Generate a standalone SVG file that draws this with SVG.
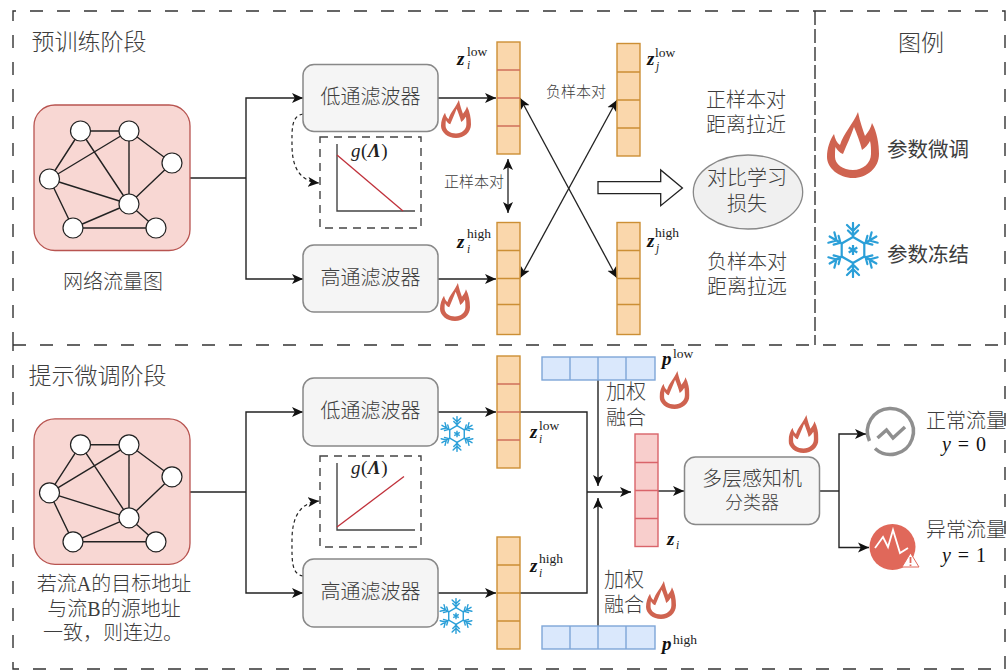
<svg xmlns="http://www.w3.org/2000/svg" xmlns:xlink="http://www.w3.org/1999/xlink" width="1006" height="670" viewBox="0 0 1006 670">
<style>
text{font-family:"Liberation Serif","Noto Sans CJK SC",serif;fill:#3d3d3d}
.t{text-anchor:middle;font-weight:300}
.s20{font-size:20px}.s23{font-size:23px}.s15{font-size:15px}
.m{fill:#111}
.z{font-size:19px;font-weight:bold;font-style:italic;fill:#111}
.i{font-size:11.5px;font-style:italic;fill:#222}
.u{font-size:13.5px;fill:#222}
.filter{fill:#f5f5f5;stroke:#888;stroke-width:1.5}
.graph{fill:#f8d7d3;stroke:#b85450;stroke-width:1.3}
.cell{fill:#fad7ac;stroke:#cc8f35;stroke-width:1.4}
.blue{fill:#dae8fc;stroke:#7ea6d8;stroke-width:1.4}
.pink{fill:#f8cecc;stroke:#d9646a;stroke-width:1.4}
.edge{stroke:#222;stroke-width:1.4;fill:none}
.arrow{stroke:#222;stroke-width:1.4;fill:none;marker-end:url(#ah)}
.both{stroke:#222;stroke-width:1.3;fill:none;marker-end:url(#ah);marker-start:url(#ah)}
.dash{stroke:#222;stroke-width:1.2;fill:none;stroke-dasharray:3.5 3;marker-end:url(#ah)}
.border{stroke:#333;stroke-width:1.4;fill:none;stroke-dasharray:13 14}
.box{stroke:#444;stroke-width:1.4;fill:none;stroke-dasharray:8 6}
.ax{stroke:#444;stroke-width:1.4;fill:none}
.red{stroke:#c0303a;stroke-width:1.3;fill:none}
.fl{fill:#cf6350;fill-rule:evenodd}
.sn{stroke:#2a9fd8;fill:none;stroke-width:2.2}
</style>
<defs>
<marker id="ah" markerUnits="userSpaceOnUse" markerWidth="12" markerHeight="11" viewBox="0 0 12 11" refX="11" refY="5.5" orient="auto-start-reverse"><path d="M0,0.5 L11,5.5 L0,10.5 L2.8,5.5 z" fill="#111"/></marker>
<symbol id="flame" viewBox="0 0 52 66" preserveAspectRatio="none"><path class="fl" d="M31 0C33 10 36 18 38 24C41 20 44 16 45 11C50 20 52 32 52 42C52 56 40 66 26 66C12 66 0 56 0 45C0 36 3 28 7 22C8 27 10 31 13 33C16 22 26 12 31 0ZM27 15C24 24 20 32 16 42C13 41 10 38 8.500 35C8 38 8 41 8 45C8 52 16 58 26 58C36 58 44 51 44 42C44 37 44 33 43 29C41 33 38 36 35 38C33 30 30 22 27 15Z"/></symbol>
<g id="arm"><path d="M0 -13V-27M-6 -25L0 -19L6 -25M-5 -19.500L0 -14.500L5 -19.500" class="sn" stroke-linecap="round"/></g>
<symbol id="snow" viewBox="-28 -28 56 56">
<path class="sn" d="M0 -13L11.300 -6.500V6.500L0 13L-11.300 6.500V-6.500Z"/>
<use xlink:href="#arm" href="#arm"/><use xlink:href="#arm" href="#arm" transform="rotate(60)"/><use xlink:href="#arm" href="#arm" transform="rotate(120)"/><use xlink:href="#arm" href="#arm" transform="rotate(180)"/><use xlink:href="#arm" href="#arm" transform="rotate(240)"/><use xlink:href="#arm" href="#arm" transform="rotate(300)"/>
<path class="sn" d="M0 -5V5M-4.300 -2.500L4.300 2.500M-4.300 2.500L4.300 -2.500"/>
</symbol>
<g id="net">
<rect class="graph" x="34" y="105" width="156" height="145.500" rx="21"/>
<path d="M80.500 131H129M80.500 131L49.500 179M80.500 131L129 204M129 131L49.500 179M129 131V204M129 131L172 163M172 163L129 204M49.500 179L129 204M49.500 179L73 228M129 204L73 228M129 204L156 228M73 228H156" stroke="#222" stroke-width="1.400" fill="none"/>
<g fill="#fff" stroke="#222" stroke-width="1.200"><circle cx="80.500" cy="131" r="10"/><circle cx="129" cy="131" r="10"/><circle cx="172" cy="163" r="10"/><circle cx="49.500" cy="179" r="10"/><circle cx="129" cy="204" r="10"/><circle cx="73" cy="228" r="10"/><circle cx="156" cy="228" r="10"/></g>
</g>
</defs>

<g id="borders">
<path class="border" d="M13 345V11H1005V669H13V345"/>
<path class="border" d="M13 345H1005"/>
<path class="border" d="M815 11V345" style="stroke-dasharray:14 4"/>
</g>

<g id="connectors">
<path class="edge" d="M190 178H246"/>
<path class="arrow" d="M246 178V98H303"/>
<path class="arrow" d="M246 178V279H303"/>
<path class="arrow" d="M438 98H496"/>
<path class="arrow" d="M438 279H496"/>
<path class="dash" d="M303 114C291 116 292 130 292 145C292 165 298 181 319 183"/>
<path class="both" d="M508 159V213"/>
<path class="both" d="M520 98L617 278"/>
<path class="both" d="M520 278L617 100"/>
<path class="edge" d="M190 492H246"/>
<path class="arrow" d="M246 492V412H303"/>
<path class="arrow" d="M246 492V593H303"/>
<path class="arrow" d="M438 412H496"/>
<path class="arrow" d="M438 593H496"/>
<path class="dash" d="M303 576C291 574 292 560 292 540C292 520 298 503 319 501"/>
<path class="edge" d="M520 412H587V593H520"/>
<path class="arrow" d="M587 492H631"/>
<path class="arrow" d="M598 380V486"/>
<path class="arrow" d="M598 626V498"/>
<path class="arrow" d="M658 491H684"/>
<path class="edge" d="M819.500 491H839"/>
<path class="arrow" d="M839 491V434H866"/>
<path class="arrow" d="M839 491V547.500H869"/>
</g>

<g id="labels-stage">
<text class="t s23" x="89" y="50">预训练阶段</text>
<text class="t s23" x="97.500" y="384">提示微调阶段</text>
<text class="t s23" x="921" y="51">图例</text>
</g>

<g id="graph-top"><use href="#net"/><text class="t s20" x="113" y="289">网络流量图</text></g>
<g id="graph-bottom"><use href="#net" transform="translate(0 313.800)"/>
<text class="t s20" x="114" y="591">若流A的目标地址</text><text class="t s20" x="114" y="616">与流B的源地址</text><text class="t s20" x="113" y="640">一致，则连边。</text></g>

<g id="filter-low-top"><rect class="filter" x="303" y="64.500" width="135" height="67" rx="11"/><text class="t s20" x="370.500" y="104">低通滤波器</text></g>
<g id="filter-high-top"><rect class="filter" x="303" y="245" width="135" height="67" rx="11"/><text class="t s20" x="370.500" y="285">高通滤波器</text></g>
<g id="filter-low-bottom"><rect class="filter" x="303" y="378" width="135" height="68" rx="11"/><text class="t s20" x="370.500" y="418">低通滤波器</text></g>
<g id="filter-high-bottom"><rect class="filter" x="303" y="559" width="135" height="68" rx="11"/><text class="t s20" x="370.500" y="599">高通滤波器</text></g>

<g id="plot-top"><rect class="box" x="320" y="137" width="101" height="91"/><path class="ax" d="M337 144V211H415"/><path class="red" d="M337 155L403 211"/><text x="351" y="157" font-size="19" letter-spacing="0.6" style="fill:#222"><tspan font-style="italic">g</tspan>(<tspan font-weight="bold" font-style="italic">Λ</tspan>)</text></g>
<g id="plot-bottom"><rect class="box" x="320" y="456" width="101" height="91"/><path class="ax" d="M337 463V530H415"/><path class="red" d="M337 527L404 476.500"/><text x="351" y="474" font-size="19" letter-spacing="0.6" style="fill:#222"><tspan font-style="italic">g</tspan>(<tspan font-weight="bold" font-style="italic">Λ</tspan>)</text></g>

<g id="vec-zi-low"><rect class="cell" x="497" y="42" width="23" height="112"/><path stroke="#d0705a" stroke-width="1.400" d="M497 70H520M497 98H520M497 126H520"/><text class="z" x="457" y="65">z</text><text class="i" x="467" y="69">i</text><text class="u" x="467" y="56">low</text></g>
<g id="vec-zj-low"><rect class="cell" x="617" y="43.500" width="23" height="112.500"/><path stroke="#cc8f35" stroke-width="1.400" d="M617 72H640M617 100H640M617 128H640"/><text class="z" x="647" y="65">z</text><text class="i" x="656" y="70">j</text><text class="u" x="655" y="57">low</text></g>
<g id="vec-zi-high"><rect class="cell" x="497" y="222.500" width="23" height="112"/><path stroke="#cc8f35" stroke-width="1.400" d="M497 250.500H520M497 278.500H520M497 304.500H520"/><text class="z" x="457" y="248">z</text><text class="i" x="467" y="253">i</text><text class="u" x="467" y="238">high</text></g>
<g id="vec-zj-high"><rect class="cell" x="617" y="222.500" width="23" height="112"/><path stroke="#cc8f35" stroke-width="1.400" d="M617 250.500H640M617 278.500H640M617 304.500H640"/><text class="z" x="647" y="247">z</text><text class="i" x="656" y="252">j</text><text class="u" x="655" y="237">high</text></g>

<g id="vec-low-bottom"><rect class="cell" x="497" y="356" width="23" height="112"/><path stroke="#d0705a" stroke-width="1.400" d="M497 384H520M497 412H520M497 440H520"/><text class="z" x="530" y="438">z</text><text class="i" x="539" y="443">i</text><text class="u" x="539" y="430">low</text></g>
<g id="vec-high-bottom"><rect class="cell" x="497" y="537" width="23" height="112"/><path stroke="#cc8f35" stroke-width="1.400" d="M497 565H520M497 593H520M497 621H520"/><text class="z" x="530" y="572">z</text><text class="i" x="539" y="577">i</text><text class="u" x="539" y="563">high</text></g>
<g id="vec-zi"><rect class="pink" x="635" y="434" width="23" height="112.500"/><path stroke="#d9646a" stroke-width="1.400" d="M635 462.500H658M635 490.500H658M635 518.500H658"/><text class="z" x="667" y="545">z</text><text class="i" x="676" y="549">i</text></g>
<g id="prompt-low"><rect class="blue" x="542" y="357" width="113" height="23"/><path stroke="#7ea6d8" stroke-width="1.400" d="M570 357V380M598 357V380M626 357V380"/><text class="z" x="662" y="365">p</text><text class="u" x="673" y="358">low</text></g>
<g id="prompt-high"><rect class="blue" x="542" y="626" width="113" height="23"/><path stroke="#7ea6d8" stroke-width="1.400" d="M570 626V649M598 626V649M626 626V649"/><text class="z" x="662" y="650">p</text><text class="u" x="673" y="644">high</text></g>

<g id="pair-labels">
<text class="t s15" x="576" y="97">负样本对</text>
<text class="t s15" x="474" y="187">正样本对</text>
<text class="t s20" x="746" y="107">正样本对</text><text class="t s20" x="746" y="132">距离拉近</text>
<text class="t s20" x="747" y="269">负样本对</text><text class="t s20" x="747" y="294">距离拉远</text>
<text class="t s20" x="626" y="399">加权</text><text class="t s20" x="626" y="425">融合</text>
<text class="t s20" x="624" y="587">加权</text><text class="t s20" x="624" y="612">融合</text>
</g>

<g id="loss"><path d="M598 181.700H660.700V170L682.400 188L660.700 205.700V193.700H598Z" fill="#fff" stroke="#222" stroke-width="1.300"/><ellipse cx="748" cy="192" rx="54.700" ry="37" fill="#f0f0f0" stroke="#888" stroke-width="1.300"/><text class="t s20" x="747" y="185">对比学习</text><text class="t s20" x="747" y="211">损失</text></g>

<g id="legend">
<use href="#flame" x="827" y="112" width="52" height="66"/><text class="s20" x="887" y="157" style="font-size:20.500px">参数微调</text>
<use href="#snow" x="825" y="222" width="56" height="56"/><text class="s20" x="887" y="262" style="font-size:20.500px">参数冻结</text>
</g>

<g id="icons">
<use href="#flame" x="441" y="100" width="30" height="38"/>
<use href="#flame" x="440" y="283" width="30" height="38"/>
<use href="#flame" x="659.500" y="371" width="30" height="38"/>
<use href="#flame" x="646" y="581" width="30" height="38"/>
<use href="#flame" x="788.500" y="415" width="30" height="38"/>
<use href="#snow" x="439" y="416" width="36" height="36"/>
<use href="#snow" x="438" y="598" width="36" height="36"/>
</g>

<g id="mlp"><rect class="filter" x="684.500" y="457" width="135" height="67.500" rx="11"/><text class="t s20" x="752" y="486">多层感知机</text><text class="t" font-size="18" x="752" y="509">分类器</text></g>

<g id="normal"><path d="M869.500 441A23 23 0 1 1 875 448.500" fill="none" stroke="#8f8f8f" stroke-width="3.500"/><path d="M877.500 438L886.500 430L893 438L905 427" fill="none" stroke="#8f8f8f" stroke-width="3.500"/><text class="t s20" x="966" y="428">正常流量</text><text class="m" x="964" y="451" font-size="20" text-anchor="middle" word-spacing="2"><tspan font-style="italic">y</tspan> = 0</text></g>
<g id="anomaly"><circle cx="892.500" cy="547" r="23" fill="#e0685a"/><path d="M875 548L883 537L888 547L893 530L900 553L908 548" fill="none" stroke="#fff" stroke-width="1.800"/><path d="M902 567L910.500 553L919 567Z" fill="#fff" stroke="#e0685a" stroke-width="1"/><path d="M910.500 557V563M910.500 564.500V566" stroke="#e0685a" stroke-width="1.800"/><text class="t s20" x="966" y="537">异常流量</text><text class="m" x="964" y="562" font-size="20" text-anchor="middle" word-spacing="2"><tspan font-style="italic">y</tspan> = 1</text></g>
</svg>
